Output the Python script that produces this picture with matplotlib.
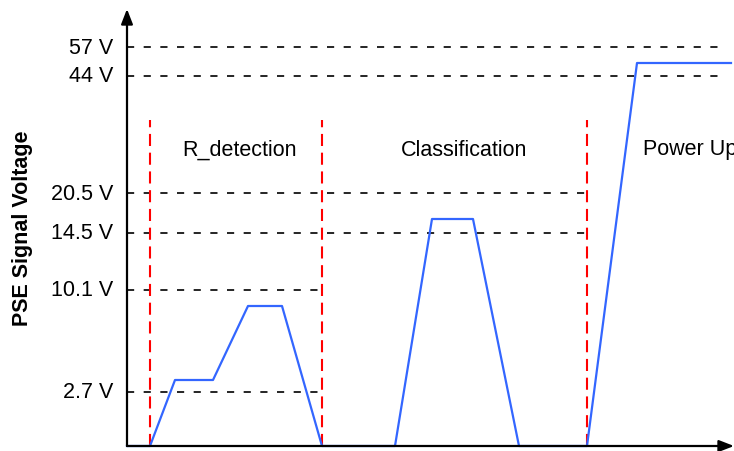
import matplotlib.pyplot as plt

plt.rcParams['font.family'] = ['Liberation Sans', 'DejaVu Sans']

# schematic time axis (arbitrary units) and signal level (schematic height)
time = [0, 23, 48, 86, 121, 155, 195, 268, 305, 346, 392, 460, 510, 604]
level = [0, 0, 66, 66, 140, 140, 0, 0, 227, 227, 0, 0, 383, 383]

# voltage reference levels and how far right each dashed guide runs
tick_labels = ['57 V', '44 V', '20.5 V', '14.5 V', '10.1 V', '2.7 V']
tick_levels = [399, 370, 253, 213, 156, 54]
guide_ends = [600, 600, 460, 460, 195, 195]

# phase borders and phase names
borders = [23, 195, 460]
border_top = 326
phases = ['R_detection', 'Classification', 'Power Up']
phase_x = [113, 337, 516]
phase_align = ['center', 'center', 'left']
phase_y = 297

W, H = 734, 452
fig = plt.figure(figsize=(W / 100, H / 100), dpi=100)
ax = fig.add_axes([127 / W, 5 / H, 607 / W, 446 / H])
ax.set_xlim(0, 607)
ax.set_ylim(0, 446)
ax.axis('off')

for lvl, end in zip(tick_levels, guide_ends):
    ax.plot([0, end], [lvl, lvl], color='black', lw=1.2, dashes=(4.3, 5.7), clip_on=False)

for b in borders:
    ax.plot([b, b], [0, border_top], color='#ff0000', lw=1.5, dashes=(5.8, 3.2), clip_on=False)

ax.plot(time, level, color='#3366ff', lw=1.6, clip_on=False, zorder=3)

# axes with arrow heads
arrow = dict(arrowstyle='-|>,head_length=0.9,head_width=0.35', color='black', lw=1.6,
             shrinkA=0, shrinkB=0)
ax.annotate('', xy=(0, 437), xytext=(0, 0), arrowprops=arrow, annotation_clip=False)
ax.annotate('', xy=(607, 0), xytext=(0, 0), arrowprops=arrow, annotation_clip=False)

for lab, lvl in zip(tick_labels, tick_levels):
    ax.text(-14, lvl, lab, ha='right', va='center', fontsize=15.5, clip_on=False)

for name, x, al in zip(phases, phase_x, phase_align):
    ax.text(x, phase_y, name, ha=al, va='center', fontsize=15.5, clip_on=False)

fig.text(23 / W, 1 - 228 / H, 'PSE Signal Voltage', rotation=90, ha='center', va='center',
         fontsize=15.5, fontweight='bold')

fig.savefig('out.png', dpi=100)
